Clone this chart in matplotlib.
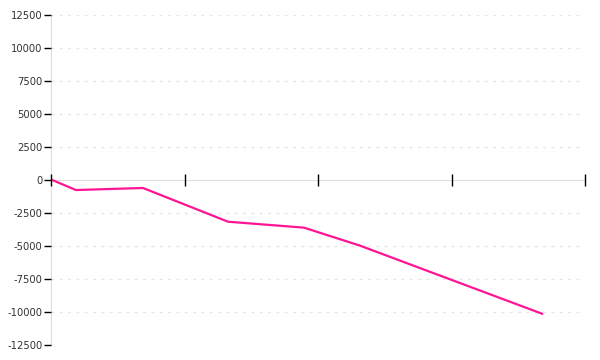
import matplotlib
matplotlib.use("Agg")
import matplotlib.pyplot as plt

x_vals = [0.0, 0.187, 0.689, 1.326, 1.895, 2.315, 3.678]
y_vals = [40, -760, -605, -3160, -3610, -4975, -10130]
y_ticks = [-12500, -10000, -7500, -5000, -2500, 0, 2500, 5000, 7500, 10000, 12500]
x_ticks = [0, 1, 2, 3, 4]

fig = plt.figure(figsize=(6, 3.6), dpi=100)
ax = fig.add_axes([51/600, 15/360, (585-51)/600, 330/360])

for yt in y_ticks:
    if yt != 0:
        ax.axhline(yt, color="#e6e6e6", linewidth=1, linestyle=(0, (2, 4)), zorder=0)

ax.plot(x_vals, y_vals, color="#ff1493", linewidth=1.6, zorder=3)

ax.set_xlim(0, 4)
ax.set_ylim(-12500, 12500)
ax.set_yticks(y_ticks)
ax.set_yticklabels([str(v) for v in y_ticks], fontsize=7.2, color="#333333")
ax.set_xticks(x_ticks)
ax.set_xticklabels([])

ax.spines["top"].set_visible(False)
ax.spines["right"].set_visible(False)
ax.spines["left"].set_color("#dddddd")
ax.spines["bottom"].set_color("#dddddd")
ax.spines["bottom"].set_position(("data", 0))
ax.spines["left"].set_zorder(1)
ax.spines["bottom"].set_zorder(1)
ax.xaxis.set_zorder(4)
ax.yaxis.set_zorder(4)
ax.tick_params(axis="y", direction="out", length=5, width=1, color="black", pad=1)
ax.tick_params(axis="x", direction="inout", length=8, width=1, color="black")

fig.savefig("out.png", dpi=100)
